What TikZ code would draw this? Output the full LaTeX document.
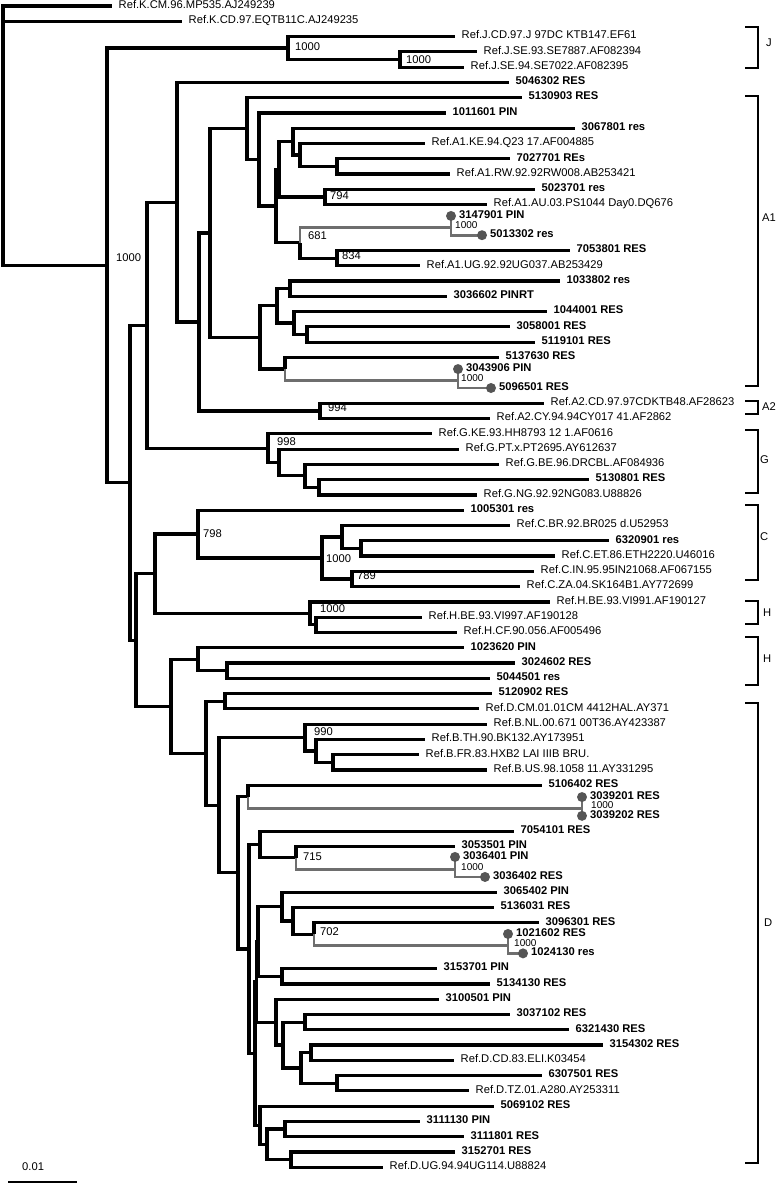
\documentclass[tikz,border=0pt]{standalone}
\usepackage{fontspec}
\setmainfont{Liberation Sans}
\definecolor{brgrey}{RGB}{110,110,110}
\definecolor{dotgrey}{RGB}{85,85,85}
\newcommand\trfont{\fontsize{11.2}{13}\selectfont}
\newcommand\trsmall{\fontsize{10}{11}\selectfont}
\begin{document}
\begin{tikzpicture}[x=1pt,y=-15.28pt,
 br/.style={line width=3.2pt,black},
 gbr/.style={line width=2.9pt,brgrey},
 dotnode/.style={circle,fill=dotgrey,minimum size=10pt,inner sep=0pt},
 reflbl/.style={anchor=base west,inner sep=0pt,xshift=6.5pt,yshift=-2.3pt,font=\trfont},
 smplbl/.style={anchor=base west,inner sep=0pt,xshift=6.5pt,yshift=-2.3pt,font=\trfont\bfseries},
 dotlbl/.style={anchor=base west,inner sep=0pt,xshift=8pt,yshift=-2.3pt,font=\trfont\bfseries},
 bs/.style={anchor=base west,inner sep=0pt,yshift=-4pt,font=\trfont},
 gbs/.style={anchor=base west,inner sep=0pt,yshift=-3.6pt,font=\trsmall},
 brk/.style={line width=1.6pt,black},
 clade/.style={anchor=base west,inner sep=0pt,yshift=-4pt,font=\trfont}]
\useasboundingbox (0,-0.3927) rectangle (777,77.094);
% ---------- internal nodes ----------
\coordinate (root) at (3,8.485);
\coordinate (nA) at (107,16.97);
\coordinate (nJ) at (288,2.75);
\coordinate (nJ2) at (400,3.5);
\coordinate (n130) at (130,31.19);
\coordinate (n147) at (147,20.89);
\coordinate (n177) at (177,12.84);
\coordinate (n199) at (199,20.68);
\coordinate (n210) at (210,14.85);
\coordinate (n247) at (247,8.02);
\coordinate (nP) at (259,10.05);
\coordinate (nQ) at (276,13.09);
\coordinate (nR) at (279,10.69);
\coordinate (n3067) at (293,8.875);
\coordinate (nKE) at (300,9.75);
\coordinate (nRW) at (337,10.5);
\coordinate (n794) at (325,12.5);
\coordinate (n681) at (300,15.5);
\coordinate (ng1) at (451,14.5);
\coordinate (n834) at (337,16.5);
\coordinate (n260) at (260,21.69);
\coordinate (n277) at (277,19.625);
\coordinate (n1033) at (290,18.5);
\coordinate (n1044) at (294,20.75);
\coordinate (n3058) at (307,21.5);
\coordinate (n285) at (285,23.75);
\coordinate (ng2) at (458,24.5);
\coordinate (nA2) at (320,26.5);
\coordinate (nG) at (268,28.94);
\coordinate (nG2) at (279,29.875);
\coordinate (nG3) at (305,30.75);
\coordinate (nG4) at (319,31.5);
\coordinate (n136) at (136,41.5);
\coordinate (n155) at (155,37.16);
\coordinate (nC) at (198,34.56);
\coordinate (nC2) at (322,36.125);
\coordinate (nC3) at (342,34.75);
\coordinate (nC4) at (361,35.5);
\coordinate (nC5) at (352,37.5);
\coordinate (nH) at (310,39.75);
\coordinate (nH2) at (316,40.5);
\coordinate (n171) at (171,45.83);
\coordinate (nHb) at (198,42.75);
\coordinate (nHb2) at (227,43.5);
\coordinate (n206) at (206,48.9);
\coordinate (n225) at (225,45.5);
\coordinate (n219) at (219,52.3);
\coordinate (nB2) at (305,47.875);
\coordinate (nB3) at (316,48.75);
\coordinate (nB4) at (333,49.5);
\coordinate (n238) at (238,56.73);
\coordinate (n248) at (248,51.75);
\coordinate (ng3) at (582,52.5);
\coordinate (nNa) at (249,61.71);
\coordinate (nNb) at (260,54.875);
\coordinate (n715) at (296,55.75);
\coordinate (ng4) at (455,56.5);
\coordinate (nNc) at (255,68.55);
\coordinate (nNg) at (256.5,63.86);
\coordinate (nNd) at (258,61.22);
\coordinate (n282a) at (282,58.94);
\coordinate (n293) at (293,59.875);
\coordinate (n702) at (314,60.75);
\coordinate (ng5) at (508,61.5);
\coordinate (n282b) at (282,63.5);
\coordinate (n276b) at (276,66.5);
\coordinate (n283) at (283,68);
\coordinate (n305b) at (305,66.5);
\coordinate (n301) at (301,69.5);
\coordinate (n311) at (311,68.5);
\coordinate (n337b) at (337,70.5);
\coordinate (n260b) at (260,73.25);
\coordinate (n267) at (267,74.5);
\coordinate (n285b) at (285,73.5);
\coordinate (n291) at (291,75.5);
% ---------- tips ----------
\coordinate (t0) at (112,0);
\coordinate (t1) at (182,1);
\coordinate (t2) at (455,2);
\coordinate (t3) at (477,3);
\coordinate (t4) at (464,4);
\coordinate (t5) at (509,5);
\coordinate (t6) at (522,6);
\coordinate (t7) at (446,7);
\coordinate (t8) at (575,8);
\coordinate (t9) at (425,9);
\coordinate (t10) at (510,10);
\coordinate (t11) at (450,11);
\coordinate (t12) at (535,12);
\coordinate (t13) at (487,13);
\coordinate (t14) at (451,13.74);
\coordinate (t15) at (482,15);
\coordinate (t16) at (570,16);
\coordinate (t17) at (420,17);
\coordinate (t18) at (560,18);
\coordinate (t19) at (447,19);
\coordinate (t20) at (547,20);
\coordinate (t21) at (510,21);
\coordinate (t22) at (535,22);
\coordinate (t23) at (499,23);
\coordinate (t24) at (458,23.76);
\coordinate (t25) at (491,25);
\coordinate (t26) at (544,26);
\coordinate (t27) at (490,27);
\coordinate (t28) at (432,28);
\coordinate (t29) at (459,29);
\coordinate (t30) at (499,30);
\coordinate (t31) at (589,31);
\coordinate (t32) at (477,32);
\coordinate (t33) at (464,33);
\coordinate (t34) at (510,34);
\coordinate (t35) at (609,35);
\coordinate (t36) at (555,36);
\coordinate (t37) at (534,37);
\coordinate (t38) at (520,38);
\coordinate (t39) at (550,39);
\coordinate (t40) at (422,40);
\coordinate (t41) at (457,41);
\coordinate (t42) at (464,42);
\coordinate (t43) at (515,43);
\coordinate (t44) at (490,44);
\coordinate (t45) at (492,45);
\coordinate (t46) at (479,46);
\coordinate (t47) at (487,47);
\coordinate (t48) at (425,48);
\coordinate (t49) at (419,49);
\coordinate (t50) at (487,50);
\coordinate (t51) at (542,51);
\coordinate (t52) at (582,51.77);
\coordinate (t53) at (582,53);
\coordinate (t54) at (514,54);
\coordinate (t55) at (455,55);
\coordinate (t56) at (455,55.69);
\coordinate (t57) at (485,57);
\coordinate (t58) at (497,58);
\coordinate (t59) at (494,59);
\coordinate (t60) at (539,60);
\coordinate (t61) at (508,60.73);
\coordinate (t62) at (523,62);
\coordinate (t63) at (437,63);
\coordinate (t64) at (490,64);
\coordinate (t65) at (439,65);
\coordinate (t66) at (510,66);
\coordinate (t67) at (569,67);
\coordinate (t68) at (603,68);
\coordinate (t69) at (454,69);
\coordinate (t70) at (542,70);
\coordinate (t71) at (469,71);
\coordinate (t72) at (494,72);
\coordinate (t73) at (420,73);
\coordinate (t74) at (464,74);
\coordinate (t75) at (455,75);
\coordinate (t76) at (383,76);
% ---------- black branches ----------
\foreach \p/\c in {root/t0,root/t1,root/nA,
 nA/nJ,nA/n130,nJ/t2,nJ/nJ2,nJ2/t3,nJ2/t4,
 n130/n147,n130/n136,n147/n177,n147/nG,n177/t5,n177/n199,
 n199/n210,n199/nA2,n210/n247,n210/n260,n247/t6,n247/nP,
 nP/t7,nP/nQ,nQ/nR,nQ/n681,nR/n3067,nR/n794,n3067/t8,n3067/nKE,
 nKE/t9,nKE/nRW,nRW/t10,nRW/t11,n794/t12,n794/t13,n681/n834,
 n834/t16,n834/t17,n260/n277,n260/n285,n277/n1033,n277/n1044,
 n1033/t18,n1033/t19,n1044/t20,n1044/n3058,n3058/t21,n3058/t22,
 n285/t23,nA2/t26,nA2/t27,
 nG/t28,nG/nG2,nG2/t29,nG2/nG3,nG3/t30,nG3/nG4,nG4/t31,nG4/t32,
 n136/n155,n136/n171,n155/nC,n155/nH,nC/t33,nC/nC2,nC2/nC3,nC2/nC5,
 nC3/t34,nC3/nC4,nC4/t35,nC4/t36,nC5/t37,nC5/t38,
 nH/t39,nH/nH2,nH2/t40,nH2/t41,
 n171/nHb,n171/n206,nHb/t42,nHb/nHb2,nHb2/t43,nHb2/t44,
 n206/n225,n206/n219,n225/t45,n225/t46,n219/nB2,n219/n238,
 nB2/t47,nB2/nB3,nB3/t48,nB3/nB4,nB4/t49,nB4/t50,
 n238/n248,n238/nNa,n248/t51,nNa/nNb,nNa/nNc,nNb/t54,nNb/n715,n715/t55,
 nNc/nNg,nNc/n260b,nNg/nNd,nNg/n276b,nNd/n282a,nNd/n282b,
 n282a/t58,n282a/n293,n293/t59,n293/n702,n702/t60,n282b/t63,n282b/t64,
 n276b/t65,n276b/n283,n283/n305b,n283/n301,n305b/t66,n305b/t67,
 n301/n311,n301/n337b,n311/t68,n311/t69,n337b/t70,n337b/t71,
 n260b/t72,n260b/n267,n267/n285b,n267/n291,n285b/t73,n285b/t74,
 n291/t75,n291/t76}
 {\draw[br] (\p) |- (\c);}
% ---------- grey branches ----------
\foreach \p/\c in {n681/ng1,ng1/t14,ng1/t15,n285/ng2,ng2/t24,ng2/t25,
 n248/ng3,ng3/t52,ng3/t53,n715/ng4,ng4/t56,ng4/t57,n702/ng5,ng5/t61,ng5/t62}
 {\draw[gbr] (\p) |- (\c);}
% ---------- dots ----------
\foreach \t in {14,15,24,25,52,53,56,57,61,62}
 {\node[dotnode] (d\t) at (t\t) {};}
% ---------- leaf labels ----------
\node[reflbl] (L0) at (t0) {Ref.K.CM.96.MP535.AJ249239};
\node[reflbl] (L1) at (t1) {Ref.K.CD.97.EQTB11C.AJ249235};
\node[reflbl] (L2) at (t2) {Ref.J.CD.97.J 97DC KTB147.EF61};
\node[reflbl] (L3) at (t3) {Ref.J.SE.93.SE7887.AF082394};
\node[reflbl] (L4) at (t4) {Ref.J.SE.94.SE7022.AF082395};
\node[smplbl] (L5) at (t5) {5046302 RES};
\node[smplbl] (L6) at (t6) {5130903 RES};
\node[smplbl] (L7) at (t7) {1011601 PIN};
\node[smplbl] (L8) at (t8) {3067801 res};
\node[reflbl] (L9) at (t9) {Ref.A1.KE.94.Q23 17.AF004885};
\node[smplbl] (L10) at (t10) {7027701 REs};
\node[reflbl] (L11) at (t11) {Ref.A1.RW.92.92RW008.AB253421};
\node[smplbl] (L12) at (t12) {5023701 res};
\node[reflbl] (L13) at (t13) {Ref.A1.AU.03.PS1044 Day0.DQ676};
\node[dotlbl] (L14) at (t14) {3147901 PIN};
\node[dotlbl] (L15) at (t15) {5013302 res};
\node[smplbl] (L16) at (t16) {7053801 RES};
\node[reflbl] (L17) at (t17) {Ref.A1.UG.92.92UG037.AB253429};
\node[smplbl] (L18) at (t18) {1033802 res};
\node[smplbl] (L19) at (t19) {3036602 PINRT};
\node[smplbl] (L20) at (t20) {1044001 RES};
\node[smplbl] (L21) at (t21) {3058001 RES};
\node[smplbl] (L22) at (t22) {5119101 RES};
\node[smplbl] (L23) at (t23) {5137630 RES};
\node[dotlbl] (L24) at (t24) {3043906 PIN};
\node[dotlbl] (L25) at (t25) {5096501 RES};
\node[reflbl] (L26) at (t26) {Ref.A2.CD.97.97CDKTB48.AF28623};
\node[reflbl] (L27) at (t27) {Ref.A2.CY.94.94CY017 41.AF2862};
\node[reflbl] (L28) at (t28) {Ref.G.KE.93.HH8793 12 1.AF0616};
\node[reflbl] (L29) at (t29) {Ref.G.PT.x.PT2695.AY612637};
\node[reflbl] (L30) at (t30) {Ref.G.BE.96.DRCBL.AF084936};
\node[smplbl] (L31) at (t31) {5130801 RES};
\node[reflbl] (L32) at (t32) {Ref.G.NG.92.92NG083.U88826};
\node[smplbl] (L33) at (t33) {1005301 res};
\node[reflbl] (L34) at (t34) {Ref.C.BR.92.BR025 d.U52953};
\node[smplbl] (L35) at (t35) {6320901 res};
\node[reflbl] (L36) at (t36) {Ref.C.ET.86.ETH2220.U46016};
\node[reflbl] (L37) at (t37) {Ref.C.IN.95.95IN21068.AF067155};
\node[reflbl] (L38) at (t38) {Ref.C.ZA.04.SK164B1.AY772699};
\node[reflbl] (L39) at (t39) {Ref.H.BE.93.VI991.AF190127};
\node[reflbl] (L40) at (t40) {Ref.H.BE.93.VI997.AF190128};
\node[reflbl] (L41) at (t41) {Ref.H.CF.90.056.AF005496};
\node[smplbl] (L42) at (t42) {1023620 PIN};
\node[smplbl] (L43) at (t43) {3024602 RES};
\node[smplbl] (L44) at (t44) {5044501 res};
\node[smplbl] (L45) at (t45) {5120902 RES};
\node[reflbl] (L46) at (t46) {Ref.D.CM.01.01CM 4412HAL.AY371};
\node[reflbl] (L47) at (t47) {Ref.B.NL.00.671 00T36.AY423387};
\node[reflbl] (L48) at (t48) {Ref.B.TH.90.BK132.AY173951};
\node[reflbl] (L49) at (t49) {Ref.B.FR.83.HXB2 LAI IIIB BRU.};
\node[reflbl] (L50) at (t50) {Ref.B.US.98.1058 11.AY331295};
\node[smplbl] (L51) at (t51) {5106402 RES};
\node[dotlbl] (L52) at (t52) {3039201 RES};
\node[dotlbl] (L53) at (t53) {3039202 RES};
\node[smplbl] (L54) at (t54) {7054101 RES};
\node[smplbl] (L55) at (t55) {3053501 PIN};
\node[dotlbl] (L56) at (t56) {3036401 PIN};
\node[dotlbl] (L57) at (t57) {3036402 RES};
\node[smplbl] (L58) at (t58) {3065402 PIN};
\node[smplbl] (L59) at (t59) {5136031 RES};
\node[smplbl] (L60) at (t60) {3096301 RES};
\node[dotlbl] (L61) at (t61) {1021602 RES};
\node[dotlbl] (L62) at (t62) {1024130 res};
\node[smplbl] (L63) at (t63) {3153701 PIN};
\node[smplbl] (L64) at (t64) {5134130 RES};
\node[smplbl] (L65) at (t65) {3100501 PIN};
\node[smplbl] (L66) at (t66) {3037102 RES};
\node[smplbl] (L67) at (t67) {6321430 RES};
\node[smplbl] (L68) at (t68) {3154302 RES};
\node[reflbl] (L69) at (t69) {Ref.D.CD.83.ELI.K03454};
\node[smplbl] (L70) at (t70) {6307501 RES};
\node[reflbl] (L71) at (t71) {Ref.D.TZ.01.A280.AY253311};
\node[smplbl] (L72) at (t72) {5069102 RES};
\node[smplbl] (L73) at (t73) {3111130 PIN};
\node[smplbl] (L74) at (t74) {3111801 RES};
\node[smplbl] (L75) at (t75) {3152701 RES};
\node[reflbl] (L76) at (t76) {Ref.D.UG.94.94UG114.U88824};
% ---------- bootstrap values ----------
\node[bs] (bA) at (116,16.49) {1000};
\node[bs] (bJ) at (295,2.62) {1000};
\node[bs] (bJ2) at (406,3.47) {1000};
\node[bs] (b794) at (330,12.37) {794};
\node[bs] (b681) at (308,15.05) {681};
\node[bs] (b834) at (342,16.36) {834};
\node[gbs] (bg1) at (455,14.33) {1000};
\node[gbs] (bg2) at (461,24.35) {1000};
\node[bs] (b994) at (328,26.3) {994};
\node[bs] (b998) at (277,28.53) {998};
\node[bs] (b798) at (203,34.55) {798};
\node[bs] (bC2) at (326,36.13) {1000};
\node[bs] (b789) at (357,37.30) {789};
\node[bs] (bH) at (320,39.40) {1000};
\node[bs] (b990) at (314,47.45) {990};
\node[gbs] (bg3) at (591,52.28) {1000};
\node[bs] (b715) at (303,55.69) {715};
\node[gbs] (bg4) at (461,56.35) {1000};
\node[bs] (b702) at (320,60.54) {702};
\node[gbs] (bg5) at (514,61.32) {1000};
% ---------- clade brackets ----------
\draw[brk] (745,1.374) -- (758,1.374) -- (758,4.058) -- (745,4.058);
\node[clade] (cJ) at (766,2.42) {J};
\draw[brk] (745,5.89) -- (758,5.89) -- (758,24.87) -- (745,24.87);
\node[clade] (cA1) at (762,13.87) {A1};
\draw[brk] (745,25.85) -- (758,25.85) -- (758,26.70) -- (745,26.70);
\node[clade] (cA2) at (762,26.24) {A2};
\draw[brk] (745,27.75) -- (758,27.75) -- (758,31.87) -- (745,31.87);
\node[clade] (cG) at (760,29.71) {G};
\draw[brk] (745,32.66) -- (758,32.66) -- (758,37.57) -- (745,37.57);
\node[clade] (cC) at (760,34.75) {C};
\draw[brk] (745,38.94) -- (758,38.94) -- (758,40.45) -- (745,40.45);
\node[clade] (cH1) at (763,39.72) {H};
\draw[brk] (745,41.30) -- (758,41.30) -- (758,44.44) -- (745,44.44);
\node[clade] (cH2) at (763,42.67) {H};
\draw[brk] (745,45.62) -- (758,45.62) -- (758,75.72) -- (745,75.72);
\node[clade] (cD) at (764,59.95) {D};
% ---------- scale bar ----------
\coordinate (sb1) at (8,76.96);
\coordinate (sb2) at (77,76.96);
\draw[line width=2pt] (sb1) -- (sb2);
\node[bs] (sbl) at (22,75.98) {0.01};
\end{tikzpicture}
\end{document}
